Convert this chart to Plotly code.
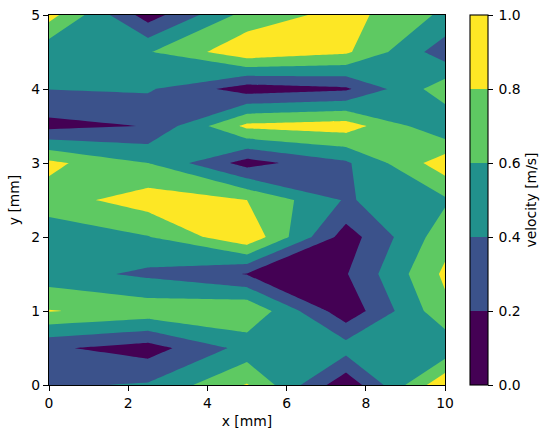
import plotly.graph_objects as go

# Measurement grid
x_mm = [0, 2.5, 5, 7.5, 10]
y_mm = [0, 0.5, 1, 1.5, 2, 2.5, 3, 3.5, 4, 4.5, 5]

# Velocity in m/s, one row per y position
row_y00 = [0.37, 0.42, 0.815, 0.05, 0.97]
row_y05 = [0.23, 0.11, 0.47, 0.49, 0.45]
row_y10 = [0.81, 0.73, 0.78, 0.064, 0.745]
row_y15 = [0.486, 0.359, 0.19, 0.187, 0.84]
row_y20 = [0.47, 0.59, 0.965, 0.10, 0.72]
row_y25 = [0.71, 0.90, 0.80, 0.38, 0.57]
row_y30 = [0.85, 0.60, 0.117, 0.37, 0.92]
row_y35 = [0.14, 0.208, 0.85, 0.90, 0.425]
row_y40 = [0.403, 0.425, 0.10, 0.17, 0.72]
row_y45 = [0.45, 0.585, 0.945, 0.833, 0.285]
row_y50 = [0.88, 0.10, 0.68, 0.875, 0.56]
velocity = [row_y00, row_y05, row_y10, row_y15, row_y20, row_y25,
            row_y30, row_y35, row_y40, row_y45, row_y50]

band_colors = ["#440154", "#3b528b", "#21918c", "#5ec962", "#fde725"]
level_ticks = [0.0, 0.2, 0.4, 0.6, 0.8, 1.0]

# Stepped colour scale, one flat colour per contour band
colorscale = []
for i, color in enumerate(band_colors):
    colorscale.append([level_ticks[i], color])
    colorscale.append([level_ticks[i + 1], color])

FONT = dict(family="DejaVu Sans", size=13.9, color="black")
PX_W, PX_H = 549, 438
LEFT, RIGHT, TOP, BOTTOM = 49, 445, 15, 385

fig = go.Figure(
    go.Contour(
        x=x_mm,
        y=y_mm,
        z=velocity,
        zmin=0,
        zmax=1,
        autocontour=False,
        contours=dict(start=0, end=1, size=0.2, coloring="fill", showlines=False),
        line=dict(width=0, smoothing=0),
        colorscale=colorscale,
        colorbar=dict(
            thickness=18,
            thicknessmode="pixels",
            len=1,
            lenmode="fraction",
            x=(470 - LEFT) / (RIGHT - LEFT),
            xanchor="left",
            xpad=0,
            y=0.5,
            yanchor="middle",
            ypad=0,
            outlinewidth=1.1,
            outlinecolor="black",
            tickmode="array",
            tickvals=level_ticks,
            # thin space keeps the labels clear of the tick marks
            ticktext=[f"\u2009{t:.1f}" for t in level_ticks],
            ticks="outside",
            ticklen=5,
            tickwidth=1.1,
            tickcolor="black",
            tickfont=FONT,
            title=dict(text="velocity [m/s]", side="right", font=FONT),
        ),
    )
)

axis_style = dict(
    showgrid=False,
    zeroline=False,
    showline=True,
    linecolor="black",
    linewidth=1.1,
    mirror=True,
    ticks="outside",
    ticklen=5,
    tickwidth=1.1,
    tickcolor="black",
    tickfont=FONT,
)

fig.update_layout(
    width=PX_W,
    height=PX_H,
    margin=dict(l=LEFT, r=PX_W - RIGHT, t=TOP, b=PX_H - BOTTOM, autoexpand=False),
    paper_bgcolor="white",
    plot_bgcolor="white",
    font=FONT,
    xaxis=dict(
        range=[0, 10],
        tickvals=[0, 2, 4, 6, 8, 10],
        title=dict(text="x [mm]", font=FONT, standoff=6),
        **axis_style,
    ),
    yaxis=dict(
        range=[0, 5],
        tickvals=[0, 1, 2, 3, 4, 5],
        title=dict(text="y [mm]", font=FONT, standoff=8),
        **axis_style,
    ),
)

fig.write_html("out.html")
